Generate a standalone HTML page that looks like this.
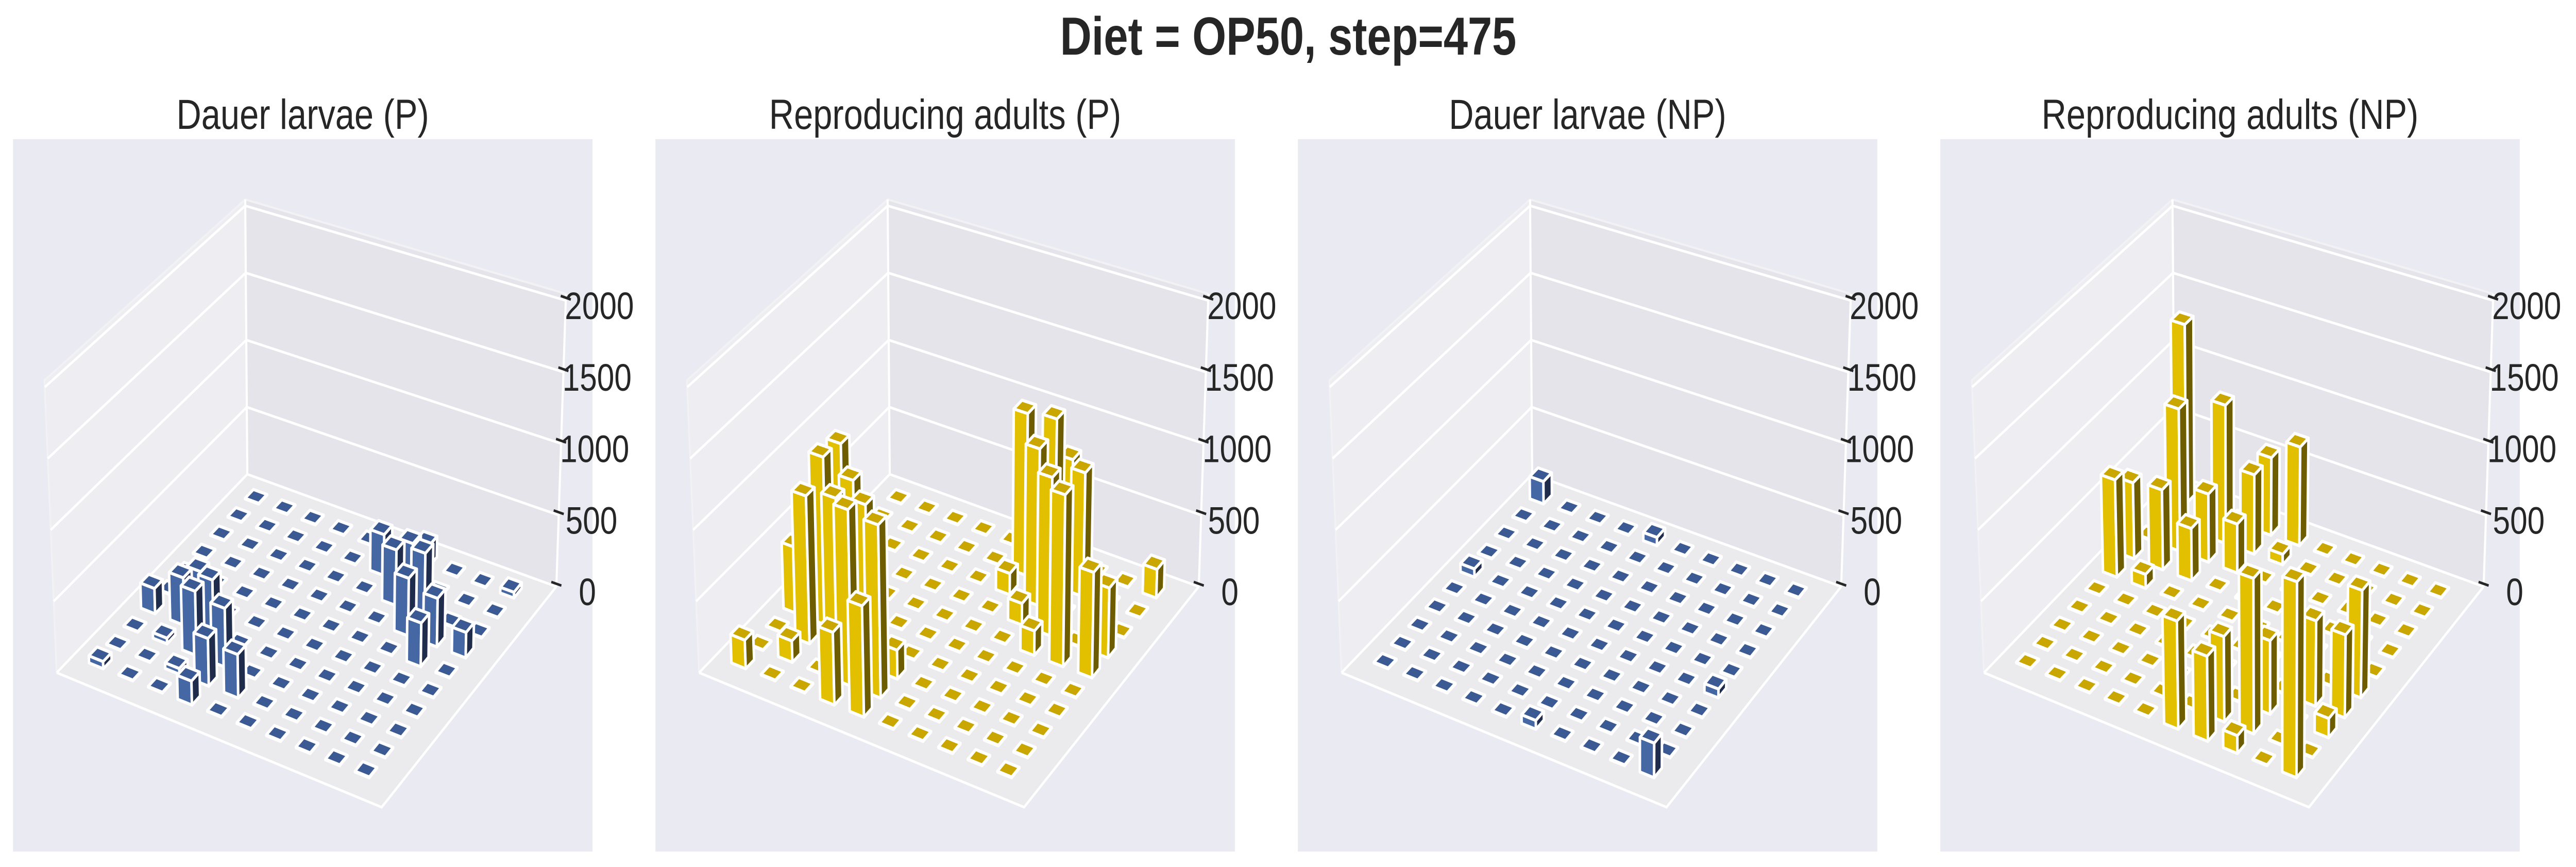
<!DOCTYPE html>
<html><head><meta charset="utf-8"><style>
html,body{margin:0;padding:0;background:#fff;width:100%;height:100%;overflow:hidden;}
svg{display:block;font-family:"Liberation Sans",sans-serif;width:100vw;height:100vh;}
</style></head><body>
<svg id="fig" xmlns="http://www.w3.org/2000/svg" viewBox="0 0 6135 1682" preserveAspectRatio="none">
<rect x="0" y="0" width="6135" height="1682" fill="#ffffff"/>
<text x="3068" y="106" text-anchor="middle" font-size="104" font-weight="bold" fill="#262626">Diet = OP50, step=475</text>
</svg>
<script>
// ---- chart data ----
const panelTitles = ["Dauer larvae (P)", "Reproducing adults (P)", "Dauer larvae (NP)", "Reproducing adults (NP)"];
const zTicks = [0, 500, 1000, 1500, 2000];
const zTickLabels = ["0", "500", "1000", "1500", "2000"];
const zMax = 2047;
const dauerP = [
 [5,5,5,5,5,5,150,5,5,40],
 [5,5,5,5,5,290,300,5,5,5],
 [5,5,5,5,5,5,390,440,5,5],
 [5,5,5,5,5,5,5,400,335,175],
 [5,5,5,5,5,5,5,5,300,5],
 [5,250,5,5,5,5,5,5,5,5],
 [180,336,400,5,5,5,5,5,5,5],
 [5,40,450,410,5,5,5,5,5,5],
 [5,5,40,330,300,5,5,5,5,5],
 [50,5,5,165,5,5,5,5,5,5]
];
const reproP = [
 [5,5,5,5,5,5,760,5,5,200],
 [5,5,5,5,5,1150,1180,870,5,5],
 [5,5,5,5,5,150,1100,5,5,5],
 [5,5,5,5,5,5,150,1100,5,480],
 [5,5,5,5,5,5,5,170,1180,720],
 [5,1160,5,5,5,5,5,5,5,5],
 [470,1190,1100,5,5,5,5,5,5,5],
 [5,1040,1100,1130,200,5,5,5,5,5],
 [5,150,5,1220,1190,5,5,5,5,5],
 [200,5,5,500,760,5,5,5,5,5]
];
const dauerNP = [
 [165,5,5,5,60,5,5,5,5,5],
 [5,5,5,5,5,5,5,5,5,5],
 [5,5,5,5,5,5,5,5,5,5],
 [5,5,5,5,5,5,5,5,5,5],
 [60,5,5,5,5,5,5,5,5,5],
 [5,5,5,5,5,5,5,5,5,60],
 [5,5,5,5,5,5,5,5,5,5],
 [5,5,5,5,5,5,5,5,5,5],
 [5,5,5,5,5,5,5,5,5,5],
 [5,5,5,5,5,60,5,5,5,230]
];
const reproNP = [
 [1320,5,5,560,710,5,5,5,5,5],
 [5,5,1000,570,75,5,5,5,5,5],
 [5,1030,490,350,5,5,5,5,5,5],
 [550,575,375,5,5,5,5,5,5,5],
 [700,100,5,5,5,5,5,5,5,5],
 [5,5,5,5,5,5,5,5,5,730],
 [5,5,5,5,5,5,5,5,580,560],
 [5,5,5,5,5,5,5,500,5,130],
 [5,5,5,5,5,5,580,1050,5,5],
 [5,5,5,5,5,735,575,120,5,1300]
];
const panelData = [dauerP, reproP, dauerNP, reproNP];
const panelColorNames = ["blue", "yellow", "blue", "yellow"];

// ---- geometry / style ----
const NS = "http://www.w3.org/2000/svg";
const svg = document.getElementById("fig");
const panelOffsets = [0, 1530, 3060, 4590];
const floorQ = {B:[589,920], L:[135,1305], R:[1325,1138], F:[909,1566]};
const topQ = {B:[584,387], L:[106,738], R:[1348,570], F:[912,961]};
const palettes = {
  blue: {top:"#3b5a93", front:"#4567a3", side:"#1f2c4b"},
  yellow: {top:"#c9a700", front:"#e2c000", side:"#6d5c00"}
};
function bil(q,u,v){
  return [q.B[0]*(1-u)*(1-v)+q.L[0]*u*(1-v)+q.R[0]*(1-u)*v+q.F[0]*u*v,
          q.B[1]*(1-u)*(1-v)+q.L[1]*u*(1-v)+q.R[1]*(1-u)*v+q.F[1]*u*v];
}
function zScale(z){ return z / zMax; }
function proj(u,v,w,ox){
  const a=bil(floorQ,u,v), b=bil(topQ,u,v);
  return [ox+a[0]+(b[0]-a[0])*w, a[1]+(b[1]-a[1])*w];
}
function cellPos(k){ return 0.073 + k*0.0913; }
const halfW = 0.022;
function pts(arr){ return arr.map(p=>p[0].toFixed(1)+","+p[1].toFixed(1)).join(" "); }
function mk(tag, parent){ const e=document.createElementNS(NS,tag); parent.appendChild(e); return e; }

panelData.forEach((grid, p) => {
  const ox = panelOffsets[p];
  const g = mk("g", svg);
  
  

  const bg = mk("rect", g);
  bg.setAttribute("x", 31+ox); bg.setAttribute("y", 270);
  bg.setAttribute("width", 1380); bg.setAttribute("height", 1382);
  bg.setAttribute("fill", "#eaeaf2");
  
  

  const title = mk("text", g);
  title.setAttribute("x", 721+ox); title.setAttribute("y", 250);
  title.setAttribute("text-anchor", "middle"); title.setAttribute("font-size", "82");
  title.setAttribute("fill", "#262626");
  title.textContent = panelTitles[p];
  
  

  const leftPane = mk("polygon", g);
  leftPane.setAttribute("points", pts([proj(1,0,0,ox),proj(0,0,0,ox),proj(0,0,1,ox),proj(1,0,1,ox)]));
  leftPane.setAttribute("fill", "#ededf2");
  
  
  const rightPane = mk("polygon", g);
  rightPane.setAttribute("points", pts([proj(0,0,0,ox),proj(0,1,0,ox),proj(0,1,1,ox),proj(0,0,1,ox)]));
  rightPane.setAttribute("fill", "#e4e4ea");
  
  
  const floorPane = mk("polygon", g);
  floorPane.setAttribute("points", pts([proj(0,0,0,ox),proj(1,0,0,ox),proj(1,1,0,ox),proj(0,1,0,ox)]));
  floorPane.setAttribute("fill", "#ebebee");
  
  

  const le = mk("polyline", g);
  le.setAttribute("points", pts([proj(1,0,0,ox),proj(1,0,1,ox),proj(0,0,1,ox),proj(0,1,1,ox)]));
  le.setAttribute("fill","none"); le.setAttribute("stroke","#f2f2f5"); le.setAttribute("stroke-width","4");
  
  

  zTicks.forEach((z) => {
    const w = zScale(z);
    const gl = mk("polyline", g);
    gl.setAttribute("points", pts([proj(1,0,w,ox),proj(0,0,w,ox),proj(0,1,w,ox)]));
    gl.setAttribute("fill","none"); gl.setAttribute("stroke","#ffffff"); gl.setAttribute("stroke-width","5");
    
    
  });
  const edges = [
    [proj(0,0,0,ox),proj(0,0,1,ox)],
    [proj(0,1,0,ox),proj(0,1,1,ox)],
    [proj(1,0,0,ox),proj(1,1,0,ox),proj(0,1,0,ox)]
  ];
  edges.forEach(e => {
    const l = mk("polyline", g);
    l.setAttribute("points", pts(e));
    l.setAttribute("fill","none"); l.setAttribute("stroke","#ffffff"); l.setAttribute("stroke-width","5");
    
    
  });

  zTicks.forEach((z, k) => {
    const E = proj(0,1,zScale(z),ox);
    const t = mk("line", g);
    t.setAttribute("x1", E[0]-12); t.setAttribute("y1", E[1]-9);
    t.setAttribute("x2", E[0]+12); t.setAttribute("y2", E[1]-2);
    t.setAttribute("stroke","#262626"); t.setAttribute("stroke-width","5");
    
    
    const lab = mk("text", g);
    const s = zTickLabels[k];
    lab.setAttribute("x", E[0] + 72 + 2*s.length);
    lab.setAttribute("y", E[1] + 36);
    lab.setAttribute("text-anchor","middle"); lab.setAttribute("font-size","74");
    lab.setAttribute("fill","#262626");
    lab.textContent = s;
    
    
  });

  const pal = palettes[panelColorNames[p]];
  const cells = [];
  for (let i=0;i<10;i++) for (let j=0;j<10;j++) cells.push([i,j]);
  cells.sort((a,b)=>(a[0]+a[1])-(b[0]+b[1]));
  cells.forEach(([i,j]) => {
    const val = grid[i][j];
    const u0=cellPos(i)-halfW, u1=cellPos(i)+halfW, v0=cellPos(j)-halfW, v1=cellPos(j)+halfW;
    const w1 = zScale(val);
    const bg2 = mk("g", g);
    
    
    const faces = [
      [[proj(u1,v0,0,ox),proj(u1,v1,0,ox),proj(u1,v1,w1,ox),proj(u1,v0,w1,ox)], pal.front],
      [[proj(u0,v1,0,ox),proj(u1,v1,0,ox),proj(u1,v1,w1,ox),proj(u0,v1,w1,ox)], pal.side],
      [[proj(u0,v0,w1,ox),proj(u1,v0,w1,ox),proj(u1,v1,w1,ox),proj(u0,v1,w1,ox)], pal.top]
    ];
    faces.forEach(([poly,col]) => {
      const f = mk("polygon", bg2);
      f.setAttribute("points", pts(poly));
      f.setAttribute("fill", col);
      f.setAttribute("stroke", "#ffffff");
      f.setAttribute("stroke-width", "6");
      f.setAttribute("stroke-linejoin", "round");
      
      
    });
  });
});
</script>
</body></html>
